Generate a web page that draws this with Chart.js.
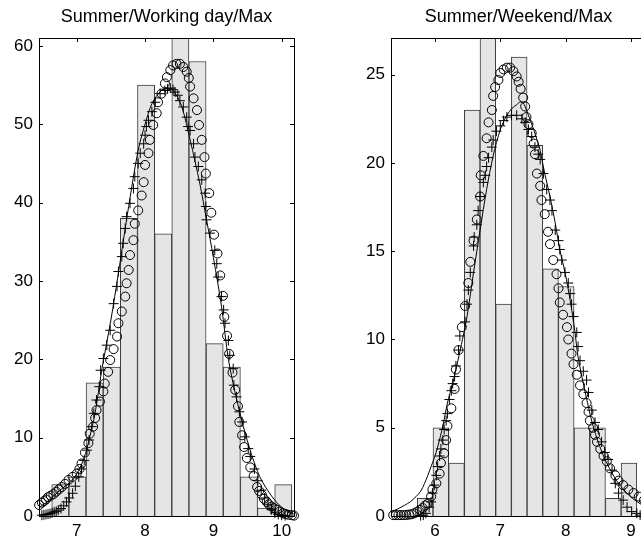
<!DOCTYPE html>
<html>
<head>
<meta charset="utf-8">
<title>Summer / Max</title>
<script src="https://cdn.jsdelivr.net/npm/chart.js@4.4.1/dist/chart.umd.min.js"></script>
<style>
  html, body { margin: 0; padding: 0; background: #fff; overflow: hidden; width: 641px; height: 542px; }
  canvas { position: absolute; top: 0; }
  #wdChart { left: 0; }
  #weChart { left: 352px; }
</style>
</head>
<body>
<canvas id="wdChart" width="333" height="542"></canvas>
<canvas id="weChart" width="333" height="542"></canvas>
<script>
// ---- working day ----
var wdBinCenters = [6.760, 7.011, 7.262, 7.513, 7.764, 8.015, 8.266, 8.517, 8.768, 9.019, 9.270, 9.521, 9.772, 10.023];
var wdCounts = [4, 5, 17, 19, 38, 55, 36, 63, 58, 22, 19, 5, 1, 4];
var wdXRange = [6.448, 10.18];
var wdYRange = [0, 61];
var wdXTicks = [7, 8, 9, 10];
var wdYTicks = [0, 10, 20, 30, 40, 50, 60];

var wdFitLine = [
  [6.45, 1.1], [6.6, 2.0], [6.69, 2.8], [6.8, 3.6], [6.94, 4.6], [7.05, 6.2], [7.13, 8.0], [7.18, 9.7],
  [7.25, 12.3], [7.30, 14.8], [7.37, 18.8], [7.5, 25], [7.61, 31], [7.76, 39.5], [7.9, 46.7], [8.0, 50],
  [8.1, 52.6], [8.24, 54.3], [8.37, 54.6], [8.45, 53.8], [8.54, 52.2], [8.66, 48], [8.8, 42.5], [8.9, 37.8],
  [9.0, 33], [9.12, 26.7], [9.22, 20], [9.33, 15.3], [9.44, 11.4], [9.56, 7.8], [9.68, 5], [9.8, 3.2],
  [9.93, 1.7], [10.05, 0.8], [10.17, 0.3]
];

var wdPlus = [
  [6.49, 0.1], [6.52, 0.15], [6.55, 0.2], [6.58, 0.25], [6.61, 0.3], [6.64, 0.4], [6.67, 0.5], [6.70, 0.6],
  [6.73, 0.75], [6.77, 0.95], [6.81, 1.3], [6.85, 1.8], [6.89, 2.3], [6.94, 2.9], [6.98, 3.8], [7.03, 5],
  [7.07, 6], [7.11, 7.1], [7.15, 8.4], [7.18, 9.7], [7.22, 11.4], [7.25, 13.1], [7.29, 14.8], [7.33, 16.5],
  [7.35, 18.6], [7.39, 20.1], [7.44, 21.8], [7.49, 23.7], [7.54, 27.1], [7.59, 29.3], [7.61, 31.2], [7.66, 33.1],
  [7.68, 34.8], [7.71, 36.7], [7.73, 38.2], [7.78, 39.9], [7.83, 41.8], [7.85, 43.3], [7.90, 45], [7.93, 46.3],
  [7.98, 47.5], [8.0, 48.6], [8.02, 49.7], [8.05, 50.5], [8.10, 51.6], [8.15, 52.8], [8.22, 53.9], [8.29, 54.3],
  [8.33, 54.5], [8.37, 54.6], [8.41, 54.4], [8.44, 54.1], [8.48, 53.7], [8.51, 53], [8.56, 52.2], [8.61, 50.9],
  [8.63, 49.7], [8.66, 49.2], [8.71, 47.5], [8.73, 45.8], [8.78, 44.6], [8.83, 42.9], [8.88, 41.2], [8.89, 39.5],
  [8.90, 37.8], [8.95, 36.1], [9.02, 33.9], [9.05, 32.2], [9.07, 30.5], [9.12, 28], [9.15, 26.3], [9.17, 24.6],
  [9.22, 22.4], [9.24, 20.5], [9.29, 18.8], [9.30, 16.7], [9.34, 15.2], [9.38, 13.3], [9.42, 12], [9.46, 10.1],
  [9.51, 8.6], [9.54, 7.6], [9.60, 6], [9.65, 4.5], [9.70, 3.3], [9.75, 2.3], [9.80, 1.5], [9.85, 0.8],
  [9.90, 0.4], [9.95, 0.2], [10.0, 0.1], [10.05, 0.05]
];

var wdCircles = [
  [6.45, 1.4], [6.49, 1.7], [6.52, 1.9], [6.55, 2.1], [6.58, 2.4], [6.62, 2.6], [6.66, 2.8], [6.70, 3.1],
  [6.74, 3.4], [6.78, 3.7], [6.83, 4.1], [6.88, 4.6], [6.94, 5.0], [7.0, 5.4], [7.04, 6], [7.07, 6.7],
  [7.12, 8.1], [7.17, 9.3], [7.19, 10.5], [7.24, 11.4], [7.27, 12.5], [7.29, 13.5], [7.34, 14.6], [7.39, 15.9],
  [7.41, 16.9], [7.46, 18.4], [7.49, 19.9], [7.54, 21.3], [7.59, 22.9], [7.61, 24.6], [7.66, 26.1], [7.71, 28],
  [7.73, 29.7], [7.76, 31.4], [7.78, 33.3], [7.83, 35.2], [7.85, 37.3], [7.90, 39], [7.95, 40.9], [7.98, 42.6],
  [8.0, 44.8], [8.05, 46.3], [8.07, 48], [8.12, 49.9], [8.17, 51.4], [8.19, 52.8], [8.24, 53.9], [8.29, 55.2],
  [8.32, 56], [8.37, 56.9], [8.41, 57.5], [8.46, 57.7], [8.51, 57.7], [8.56, 57.3], [8.61, 56.7], [8.64, 55.9],
  [8.66, 54.8], [8.71, 53.3], [8.76, 51.8], [8.79, 49.9], [8.83, 48], [8.87, 45.8], [8.89, 43.7], [8.94, 41.2],
  [8.97, 38.7], [9.01, 35.9], [9.06, 33.5], [9.10, 30.7], [9.14, 28.1], [9.16, 25.4], [9.20, 23], [9.23, 20.7],
  [9.28, 18.3], [9.32, 16.1], [9.36, 14], [9.38, 12], [9.42, 10.3], [9.45, 8.8], [9.49, 7.4], [9.54, 6.2],
  [9.59, 5.1], [9.64, 3.7], [9.67, 3.2], [9.71, 2.7], [9.74, 2.2], [9.78, 1.8], [9.81, 1.5], [9.85, 1.2],
  [9.89, 1.0], [9.93, 0.8], [9.97, 0.55], [10.02, 0.35], [10.06, 0.25], [10.10, 0.15], [10.15, 0.1], [10.18, 0.05]
];

// ---- weekend ----
var weBinCenters = [5.849, 6.089, 6.329, 6.569, 6.809, 7.049, 7.289, 7.529, 7.769, 8.009, 8.249, 8.489, 8.729, 8.969];
var weCounts = [1, 5, 3, 23, 28, 12, 26, 21, 14, 13, 5, 5, 1, 3];
var weXRange = [5.326, 9.23];
var weYRange = [0, 27.08];
var weXTicks = [6, 7, 8, 9];
var weYTicks = [0, 5, 10, 15, 20, 25];

var weFitLine = [
  [5.33, 0.25], [5.43, 0.4], [5.53, 0.6], [5.62, 0.8], [5.71, 1.1], [5.78, 1.4], [5.84, 1.85], [5.89, 2.3],
  [5.94, 2.8], [5.99, 3.3], [6.04, 3.9], [6.12, 5.1], [6.19, 6.4], [6.27, 7.5], [6.35, 8.8], [6.42, 10],
  [6.49, 11.3], [6.59, 13.8], [6.69, 16.2], [6.79, 18.5], [6.89, 20.4], [7.0, 21.9], [7.10, 22.7], [7.18, 23.1],
  [7.25, 23.3], [7.30, 23.45], [7.35, 23.4], [7.40, 23.0], [7.45, 22.5], [7.51, 21.9], [7.58, 21.1], [7.61, 20.7],
  [7.68, 19.4], [7.76, 18.1], [7.84, 16.6], [7.91, 15.1], [7.99, 13.8], [8.07, 12.2], [8.14, 10.5], [8.19, 9.0],
  [8.30, 7.0], [8.42, 5.1], [8.58, 3.4], [8.78, 2.0], [8.99, 1.1], [9.14, 0.7], [9.23, 0.5]
];

var wePlus = [
  [5.78, 0.02], [5.82, 0.05], [5.86, 0.15], [5.91, 0.5], [5.94, 0.8], [5.96, 1.3], [5.99, 1.75], [6.02, 2.3],
  [6.04, 2.8], [6.07, 3.4], [6.09, 3.8], [6.12, 4.3], [6.14, 4.9], [6.17, 5.4], [6.19, 5.8], [6.22, 6.6],
  [6.25, 7.1], [6.27, 7.5], [6.30, 7.9], [6.32, 8.5], [6.36, 9.4], [6.38, 10.2], [6.46, 11], [6.49, 12],
  [6.51, 12.8], [6.54, 13.8], [6.59, 15.3], [6.60, 15.8], [6.64, 16.5], [6.66, 17.3], [6.69, 18.1], [6.74, 18.9],
  [6.77, 19.3], [6.79, 19.8], [6.82, 20.3], [6.87, 20.9], [6.89, 21.3], [6.94, 21.8], [7.0, 22.1], [7.05, 22.4],
  [7.10, 22.6], [7.17, 22.7], [7.25, 22.7], [7.33, 22.5], [7.38, 22.3], [7.43, 21.9], [7.48, 21.5], [7.53, 20.9],
  [7.58, 20.5], [7.61, 20.2], [7.66, 19.4], [7.71, 18.5], [7.76, 17.9], [7.79, 17.3], [7.84, 16.2], [7.89, 15.6],
  [7.91, 15.1], [7.94, 14.5], [7.99, 13.8], [8.04, 13.2], [8.07, 12.6], [8.09, 12], [8.12, 11.3], [8.17, 10.4],
  [8.19, 9.6], [8.22, 8.8], [8.27, 8.2], [8.32, 7.7], [8.35, 7.0], [8.40, 6.0], [8.45, 5.3], [8.50, 4.9],
  [8.55, 4.2], [8.60, 3.6], [8.65, 3.2], [8.71, 2.6], [8.76, 1.85], [8.81, 1.3], [8.88, 0.9], [8.94, 0.5],
  [9.01, 0.25], [9.09, 0.15], [9.14, 0.05]
];

var weCircles = [
  [5.36, 0.05], [5.40, 0.05], [5.44, 0.05], [5.48, 0.05], [5.52, 0.05], [5.56, 0.06], [5.60, 0.08], [5.64, 0.1],
  [5.68, 0.15], [5.73, 0.25], [5.77, 0.35], [5.81, 0.45], [5.85, 0.6], [5.89, 0.7], [5.94, 1.1], [5.96, 1.5],
  [6.02, 1.85], [6.07, 2.4], [6.09, 3], [6.14, 3.55], [6.17, 4.3], [6.19, 5.1], [6.25, 6.1], [6.30, 7.2],
  [6.32, 8.3], [6.36, 9.4], [6.41, 10.7], [6.46, 11.9], [6.51, 13.2], [6.54, 14.4], [6.59, 15.6], [6.64, 16.8],
  [6.69, 18.1], [6.70, 19.3], [6.74, 20.4], [6.79, 21.4], [6.82, 22.3], [6.87, 23], [6.89, 23.8], [6.92, 24.3],
  [6.97, 24.7], [7.0, 25.1], [7.05, 25.3], [7.10, 25.4], [7.15, 25.4], [7.20, 25.2], [7.25, 24.9], [7.28, 24.6],
  [7.31, 24.2], [7.35, 23.7], [7.38, 23.2], [7.40, 22.6], [7.43, 22.2], [7.48, 21.7], [7.51, 21.1], [7.53, 20.5],
  [7.56, 19.4], [7.61, 18.7], [7.63, 17.9], [7.68, 17.1], [7.73, 16.1], [7.76, 15.4], [7.81, 14.5], [7.86, 13.7],
  [7.89, 12.9], [7.91, 12.1], [7.96, 11.4], [8.02, 10.7], [8.04, 10], [8.09, 9.2], [8.12, 8.6], [8.17, 8],
  [8.22, 7.4], [8.27, 6.9], [8.32, 6.4], [8.35, 5.9], [8.37, 5.4], [8.42, 5.0], [8.45, 4.6], [8.48, 4.2],
  [8.53, 3.8], [8.58, 3.4], [8.63, 3.1], [8.68, 2.7], [8.76, 2.3], [8.81, 2.0], [8.88, 1.75], [8.96, 1.5],
  [9.04, 1.3], [9.12, 1.1], [9.20, 0.9]
];

(function(){
  'use strict';

  var FONT = '"Liberation Sans", Arial, Helvetica, sans-serif';
  var TICK_LEN = 4;

  function toPoints(pairs){
    return pairs.map(function(p){ return { x: p[0], y: p[1] }; });
  }

  // box frame, inward tick marks and the title above the plot area
  var axesBox = {
    id: 'axesBox',
    beforeDatasetsDraw: function(chart){
      var ctx = chart.ctx, a = chart.chartArea;
      var xs = chart.scales.x, ys = chart.scales.y;
      ctx.save();
      ctx.strokeStyle = '#000';
      ctx.lineWidth = 1;
      ctx.beginPath();
      xs.ticks.forEach(function(t){
        var px = Math.round(xs.getPixelForValue(t.value)) + 0.5;
        ctx.moveTo(px, a.top); ctx.lineTo(px, a.top + TICK_LEN);
        ctx.moveTo(px, a.bottom); ctx.lineTo(px, a.bottom - TICK_LEN);
      });
      ys.ticks.forEach(function(t){
        var py = Math.round(ys.getPixelForValue(t.value)) + 0.5;
        ctx.moveTo(a.left, py); ctx.lineTo(a.left + TICK_LEN, py);
        ctx.moveTo(a.right, py); ctx.lineTo(a.right - TICK_LEN, py);
      });
      ctx.stroke();
      ctx.restore();
    },
    afterDraw: function(chart, args, opts){
      var ctx = chart.ctx, a = chart.chartArea;
      ctx.save();
      ctx.strokeStyle = '#000';
      ctx.lineWidth = 1;
      ctx.strokeRect(Math.round(a.left) + 0.5, Math.round(a.top) + 0.5,
                     Math.round(a.right - a.left), Math.round(a.bottom - a.top));
      ctx.fillStyle = '#000';
      ctx.font = '18px ' + FONT;
      ctx.textAlign = 'center';
      ctx.textBaseline = 'middle';
      ctx.fillText(opts.title, (a.left + a.right) / 2, 17);
      ctx.restore();
    }
  };

  function makeChart(id, cfg){
    var bars = cfg.centers.map(function(c, i){ return { x: c, y: cfg.counts[i] }; });
    return new Chart(document.getElementById(id), {
      type: 'bar',
      data: {
        datasets: [
          { type: 'scatter', data: toPoints(cfg.circles), order: 1, clip: false,
            pointStyle: 'circle', pointRadius: 4.5, pointBorderWidth: 1,
            pointBackgroundColor: 'rgba(0,0,0,0)', pointBorderColor: '#000' },
          { type: 'scatter', data: toPoints(cfg.plus), order: 2, clip: false,
            pointStyle: 'cross', pointRadius: 5, pointBorderWidth: 1,
            pointBorderColor: '#000', pointBackgroundColor: '#000' },
          { type: 'line', data: toPoints(cfg.fit), order: 3, clip: false,
            borderColor: '#000', borderWidth: 1, pointRadius: 0, tension: 0.3, fill: false },
          { type: 'bar', data: bars, order: 4,
            backgroundColor: '#e5e5e5', borderColor: '#3c3c3c', borderWidth: 1,
            barPercentage: 1, categoryPercentage: 1 }
        ]
      },
      options: {
        responsive: false,
        animation: false,
        events: [],
        layout: { padding: { top: 38, right: 39, left: 0, bottom: 0 } },
        plugins: {
          legend: { display: false },
          tooltip: { enabled: false },
          axesBox: { title: cfg.title }
        },
        scales: {
          x: {
            type: 'linear', offset: false,
            min: cfg.xRange[0], max: cfg.xRange[1],
            grid: { display: false, drawTicks: false },
            border: { display: false },
            ticks: { color: '#000', font: { family: FONT, size: 17 }, padding: 5,
                     maxRotation: 0, autoSkip: false },
            afterBuildTicks: function(s){ s.ticks = cfg.xTicks.map(function(v){ return { value: v }; }); },
            afterFit: function(s){ s.height = 26; }
          },
          y: {
            type: 'linear',
            min: cfg.yRange[0], max: cfg.yRange[1],
            grid: { display: false, drawTicks: false },
            border: { display: false },
            ticks: { color: '#000', font: { family: FONT, size: 17 }, padding: 6, autoSkip: false },
            afterBuildTicks: function(s){ s.ticks = cfg.yTicks.map(function(v){ return { value: v }; }); },
            afterFit: function(s){ s.width = 39; }
          }
        }
      },
      plugins: [axesBox]
    });
  }

  makeChart('wdChart', {
    title: 'Summer/Working day/Max',
    centers: wdBinCenters, counts: wdCounts,
    fit: wdFitLine, plus: wdPlus, circles: wdCircles,
    xRange: wdXRange, yRange: wdYRange, xTicks: wdXTicks, yTicks: wdYTicks
  });

  makeChart('weChart', {
    title: 'Summer/Weekend/Max',
    centers: weBinCenters, counts: weCounts,
    fit: weFitLine, plus: wePlus, circles: weCircles,
    xRange: weXRange, yRange: weYRange, xTicks: weXTicks, yTicks: weYTicks
  });
})();
</script>
</body>
</html>
